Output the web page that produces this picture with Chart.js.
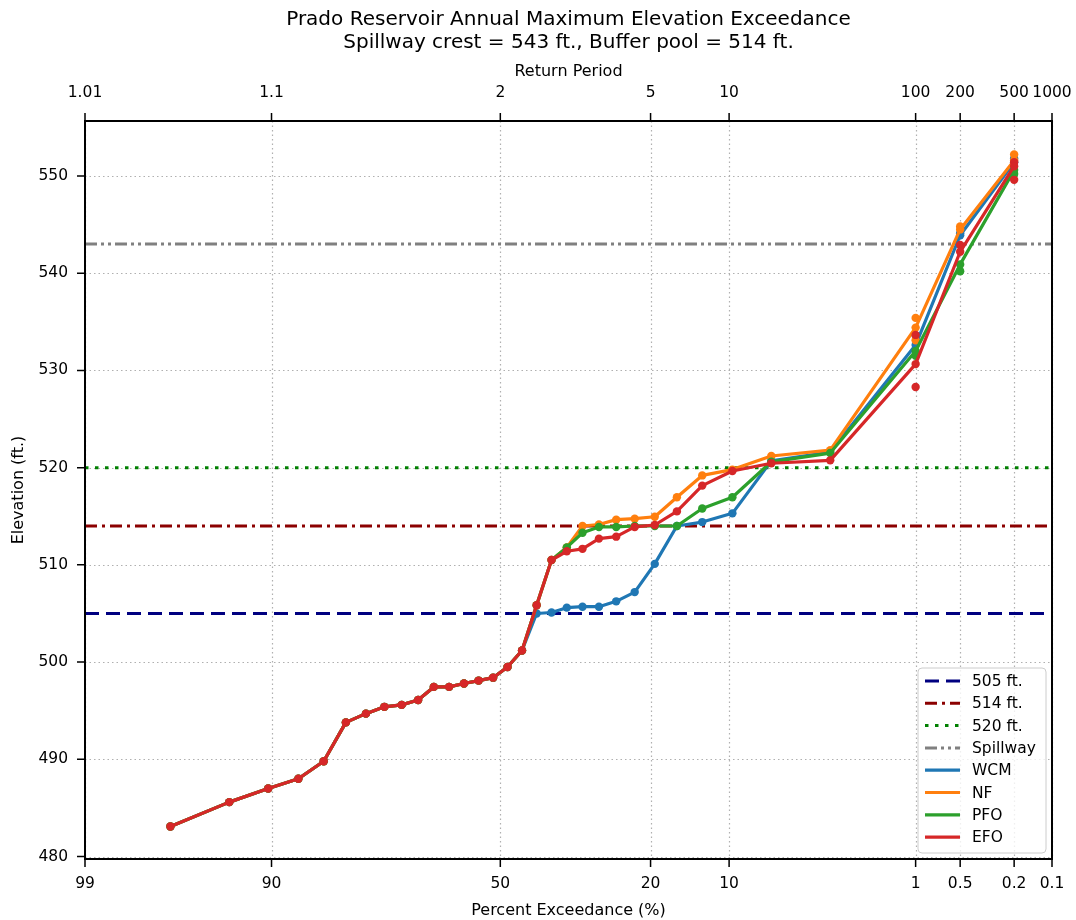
<!DOCTYPE html>
<html>
<head>
<meta charset="utf-8">
<title>Prado Reservoir Annual Maximum Elevation Exceedance</title>
<script src="https://cdn.jsdelivr.net/npm/chart.js@4.4.1/dist/chart.umd.min.js"></script>
<style>
  html, body { margin: 0; padding: 0; background: #fff; }
  #chart { display: block; }
</style>
</head>
<body>
<canvas id="chart" width="1076" height="920"></canvas>
<script>
// ============================================================================
// Data
// ============================================================================

// Ranked record (Weibull positions, % exceedance) followed by the 100/200/500-yr events
const exceedancePct = [96.77, 93.55, 90.32, 87.10, 83.87, 80.65, 77.42, 74.19, 70.97, 67.74,
  64.52, 61.29, 58.06, 54.84, 51.61, 48.39, 45.16, 41.94, 38.71, 35.48,
  32.26, 29.03, 25.81, 22.58, 19.35, 16.13, 12.90, 9.68, 6.45, 3.23,
  1, 0.5, 0.2];

const wcmElev = [483.1, 485.6, 487.0, 488.0, 489.8, 493.8, 494.7, 495.4, 495.6, 496.1,
  497.45, 497.45, 497.8, 498.1, 498.4, 499.5, 501.2, 505.0, 505.1, 505.6,
  505.7, 505.7, 506.25, 507.2, 510.1, 514.0, 514.4, 515.3, 520.7, 521.6,
  532.6, 543.9, 551.4];
const nfElev = [483.1, 485.6, 487.0, 488.0, 489.8, 493.8, 494.7, 495.4, 495.6, 496.1,
  497.45, 497.45, 497.8, 498.1, 498.4, 499.5, 501.2, 505.85, 510.5, 511.8,
  514.0, 514.15, 514.65, 514.75, 514.95, 516.95, 519.2, 519.8, 521.2, 521.8,
  534.4, 544.5, 551.6];
const pfoElev = [483.1, 485.6, 487.0, 488.0, 489.8, 493.8, 494.7, 495.4, 495.6, 496.1,
  497.45, 497.45, 497.8, 498.1, 498.4, 499.5, 501.2, 505.85, 510.5, 511.8,
  513.3, 513.9, 513.9, 514.0, 514.0, 514.0, 515.8, 516.95, 520.6, 521.5,
  532.0, 540.9, 550.6];
const efoElev = [483.1, 485.6, 487.0, 488.0, 489.8, 493.8, 494.7, 495.4, 495.6, 496.1,
  497.45, 497.45, 497.8, 498.1, 498.4, 499.5, 501.2, 505.85, 510.5, 511.4,
  511.65, 512.7, 512.9, 513.9, 514.1, 515.5, 518.15, 519.65, 520.45, 520.75,
  530.65, 542.2, 551.0];

// Other frequency estimates shown as loose dots
const wcmExtraPct = [1, 0.5, 0.2];
const wcmExtraElev = [533.6, 544.1, 551.8];
const nfExtraPct = [1, 1, 0.5, 0.2];
const nfExtraElev = [535.4, 533.1, 544.8, 552.2];
const pfoExtraPct = [1, 0.5, 0.2];
const pfoExtraElev = [531.5, 540.2, 550.2];
const efoExtraPct = [1, 1, 0.5, 0.2, 0.2];
const efoExtraElev = [533.65, 528.3, 542.9, 551.4, 549.6];

// Reference pools
const refLabels = ['505 ft.', '514 ft.', '520 ft.', 'Spillway'];
const refLevels = [505, 514, 520, 543];

// Axes
const pctTicks = [99, 90, 50, 20, 10, 1, 0.5, 0.2, 0.1];
const pctTickLabels = ['99', '90', '50', '20', '10', '1', '0.5', '0.2', '0.1'];
const returnPeriodLabels = ['1.01', '1.1', '2', '5', '10', '100', '200', '500', '1000'];
const yTicks = [480, 490, 500, 510, 520, 530, 540, 550];

// ============================================================================
// Normal probability scale
// ============================================================================

function normInv(p) {
  const a = [-3.969683028665376e+01, 2.209460984245205e+02, -2.759285104469687e+02,
    1.383577518672690e+02, -3.066479806614716e+01, 2.506628277459239e+00];
  const b = [-5.447609879822406e+01, 1.615858368580409e+02, -1.556989798598866e+02,
    6.680131188771972e+01, -1.328068155288572e+01];
  const c = [-7.784894002430293e-03, -3.223964580411365e-01, -2.400758277161838e+00,
    -2.549732539343734e+00, 4.374664141464968e+00, 2.938163982698783e+00];
  const d = [7.784695709041462e-03, 3.224671290700398e-01, 2.445134137142996e+00,
    3.754408661907416e+00];
  const lo = 0.02425;
  if (p < lo) {
    const q = Math.sqrt(-2 * Math.log(p));
    return (((((c[0] * q + c[1]) * q + c[2]) * q + c[3]) * q + c[4]) * q + c[5]) /
      ((((d[0] * q + d[1]) * q + d[2]) * q + d[3]) * q + 1);
  }
  if (p <= 1 - lo) {
    const q = p - 0.5, r = q * q;
    return (((((a[0] * r + a[1]) * r + a[2]) * r + a[3]) * r + a[4]) * r + a[5]) * q /
      (((((b[0] * r + b[1]) * r + b[2]) * r + b[3]) * r + b[4]) * r + 1);
  }
  const q = Math.sqrt(-2 * Math.log(1 - p));
  return -(((((c[0] * q + c[1]) * q + c[2]) * q + c[3]) * q + c[4]) * q + c[5]) /
    ((((d[0] * q + d[1]) * q + d[2]) * q + d[3]) * q + 1);
}

// percent exceedance -> standard normal variate
function toZ(pct) {
  return normInv(1 - pct / 100);
}

class ExceedanceScale extends Chart.Scale {
  determineDataLimits() {
    this.min = 0.1;
    this.max = 99;
  }
  buildTicks() {
    return pctTicks.map(v => ({ value: v }));
  }
  getLabelForValue(value) {
    return String(value);
  }
  getPixelForValue(value) {
    const zLeft = toZ(this.max);
    const zRight = toZ(this.min);
    return this.getPixelForDecimal((toZ(value) - zLeft) / (zRight - zLeft));
  }
  getValueForPixel(pixel) {
    // bisection, only used for interaction
    let lo = this.min, hi = this.max;
    for (let i = 0; i < 60; i++) {
      const mid = (lo + hi) / 2;
      if (this.getPixelForValue(mid) > pixel) lo = mid; else hi = mid;
    }
    return (lo + hi) / 2;
  }
}
ExceedanceScale.id = 'exceedance';
ExceedanceScale.defaults = {};
Chart.register(ExceedanceScale);

// ============================================================================
// Datasets
// ============================================================================

function toPoints(xs, ys) {
  return xs.map((x, i) => ({ x: x, y: ys[i] }));
}

const refColors = ['#000080', '#8b0000', '#008000', '#808080'];
const refDashes = [[14, 7], [12, 5, 3, 5], [3.5, 6.5], [12, 4, 3, 4, 3, 4]];

const refDatasets = refLevels.map((level, i) => ({
  label: refLabels[i],
  data: toPoints([99, 0.1], [level, level]),
  borderColor: refColors[i],
  borderWidth: 3,
  borderDash: refDashes[i],
  pointRadius: 0,
  order: 9
}));

function seriesDataset(label, color, ys, order) {
  return {
    label: label,
    data: toPoints(exceedancePct, ys),
    borderColor: color,
    backgroundColor: color,
    borderWidth: 3.2,
    borderJoinStyle: 'round',
    pointRadius: 4.2,
    pointBorderWidth: 0,
    pointBackgroundColor: color,
    order: order
  };
}

function extraDataset(label, color, xs, ys, order) {
  return {
    label: label,
    extra: true,
    data: toPoints(xs, ys),
    showLine: false,
    borderColor: color,
    pointRadius: 4.2,
    pointBorderWidth: 0,
    pointBackgroundColor: color,
    order: order
  };
}

const datasets = [
  ...refDatasets,
  seriesDataset('WCM', '#1f77b4', wcmElev, 8),
  seriesDataset('NF', '#ff7f0e', nfElev, 7),
  seriesDataset('PFO', '#2ca02c', pfoElev, 6),
  seriesDataset('EFO', '#d62728', efoElev, 5),
  extraDataset('WCM extra', '#1f77b4', wcmExtraPct, wcmExtraElev, 8),
  extraDataset('NF extra', '#ff7f0e', nfExtraPct, nfExtraElev, 7),
  extraDataset('PFO extra', '#2ca02c', pfoExtraPct, pfoExtraElev, 6),
  extraDataset('EFO extra', '#d62728', efoExtraPct, efoExtraElev, 5)
];

// ============================================================================
// Plugins
// ============================================================================

const FONT = "'DejaVu Sans', sans-serif";
const TICK_LEN = 8;

const gridAndFrame = {
  id: 'gridAndFrame',
  beforeDatasetsDraw(chart) {
    const { ctx, chartArea: a, scales } = chart;
    ctx.save();
    ctx.strokeStyle = '#b0b0b0';
    ctx.lineWidth = 1.2;
    ctx.setLineDash([1.5, 3]);
    pctTicks.forEach(v => {
      const px = Math.round(scales.x.getPixelForValue(v)) + 0.5;
      ctx.beginPath(); ctx.moveTo(px, a.top); ctx.lineTo(px, a.bottom); ctx.stroke();
    });
    yTicks.forEach(v => {
      const py = Math.round(scales.y.getPixelForValue(v)) + 0.5;
      ctx.beginPath(); ctx.moveTo(a.left, py); ctx.lineTo(a.right, py); ctx.stroke();
    });
    ctx.restore();
  },
  afterDatasetsDraw(chart) {
    const { ctx, chartArea: a, scales } = chart;
    ctx.save();
    ctx.strokeStyle = '#000';
    // tick marks
    ctx.lineWidth = 1.5;
    ctx.beginPath();
    pctTicks.forEach(v => {
      const px = scales.x.getPixelForValue(v);
      ctx.moveTo(px, a.bottom); ctx.lineTo(px, a.bottom + TICK_LEN);
      const pt = scales.x2.getPixelForValue(v);
      ctx.moveTo(pt, a.top); ctx.lineTo(pt, a.top - TICK_LEN);
    });
    yTicks.forEach(v => {
      const py = scales.y.getPixelForValue(v);
      ctx.moveTo(a.left - TICK_LEN, py); ctx.lineTo(a.left, py);
    });
    ctx.stroke();
    // spines
    ctx.lineWidth = 2;
    ctx.strokeRect(a.left, a.top, a.right - a.left, a.bottom - a.top);
    ctx.restore();
  }
};

const titleAndLegend = {
  id: 'titleAndLegend',
  afterDraw(chart) {
    const { ctx, chartArea: a } = chart;
    ctx.save();

    // title
    ctx.fillStyle = '#000';
    ctx.font = '20px ' + FONT;
    ctx.textAlign = 'center';
    ctx.textBaseline = 'middle';
    const cx = (a.left + a.right) / 2;
    ctx.fillText('Prado Reservoir Annual Maximum Elevation Exceedance', cx, 20);
    ctx.fillText('Spillway crest = 543 ft., Buffer pool = 514 ft.', cx, 43);

    // legend in lower right corner of the axes
    const items = chart.data.datasets.filter(d => !d.extra);
    const w = 128, h = 185, rowH = 22.3;
    const x0 = a.right - 6 - w, y0 = a.bottom - 6 - h;
    ctx.beginPath();
    ctx.roundRect(x0, y0, w, h, 4);
    ctx.fillStyle = 'rgba(255,255,255,0.8)';
    ctx.fill();
    ctx.strokeStyle = '#cccccc';
    ctx.lineWidth = 1;
    ctx.stroke();

    ctx.textAlign = 'left';
    ctx.font = '15.5px ' + FONT;
    items.forEach((d, i) => {
      const cy = y0 + 13 + i * rowH;
      ctx.strokeStyle = d.borderColor;
      ctx.lineWidth = d.borderWidth;
      ctx.setLineDash(d.borderDash || []);
      ctx.beginPath(); ctx.moveTo(x0 + 7, cy); ctx.lineTo(x0 + 42, cy); ctx.stroke();
      ctx.setLineDash([]);
      ctx.fillStyle = '#000';
      ctx.fillText(d.label, x0 + 54, cy + 1);
    });
    ctx.restore();
  }
};

// ============================================================================
// Chart
// ============================================================================

Chart.defaults.font.family = FONT;
Chart.defaults.color = '#000';

function fixHorizontal(height) {
  return s => {
    s.height = height;
    s.paddingLeft = 0;
    s.paddingRight = 0;
  };
}

new Chart(document.getElementById('chart').getContext('2d'), {
  type: 'line',
  data: { datasets: datasets },
  options: {
    responsive: false,
    animation: false,
    events: [],
    layout: { padding: { top: 50, right: 24, bottom: 0, left: 0 } },
    plugins: {
      legend: { display: false },
      tooltip: { enabled: false },
      title: { display: false }
    },
    scales: {
      x: {
        type: 'exceedance',
        position: 'bottom',
        afterFit: fixHorizontal(61),
        ticks: {
          autoSkip: false, maxRotation: 0, minRotation: 0, padding: 16,
          font: { size: 15.5 }, color: '#000',
          callback: (v, i) => pctTickLabels[i]
        },
        grid: { display: false, drawTicks: false },
        border: { display: false },
        title: {
          display: true, text: 'Percent Exceedance (%)',
          font: { size: 16 }, color: '#000', padding: { top: 0, bottom: 0 }
        }
      },
      x2: {
        type: 'exceedance',
        position: 'top',
        afterFit: fixHorizontal(71),
        ticks: {
          autoSkip: false, maxRotation: 0, minRotation: 0, padding: 19,
          font: { size: 15.5 }, color: '#000',
          callback: (v, i) => returnPeriodLabels[i]
        },
        grid: { display: false, drawTicks: false },
        border: { display: false },
        title: {
          display: true, text: 'Return Period',
          font: { size: 16 }, color: '#000', padding: { top: 12, bottom: 0 }
        }
      },
      y: {
        type: 'linear',
        position: 'left',
        min: 479.75,
        max: 555.65,
        afterBuildTicks: s => { s.ticks = yTicks.map(v => ({ value: v })); },
        afterFit: s => { s.width = 85; },
        ticks: { padding: 17, font: { size: 15.5 }, color: '#000', callback: v => String(v) },
        grid: { display: false, drawTicks: false },
        border: { display: false },
        title: {
          display: true, text: 'Elevation (ft.)',
          font: { size: 16 }, color: '#000', padding: { top: 9, bottom: 0 }
        }
      }
    }
  },
  plugins: [gridAndFrame, titleAndLegend]
});
</script>
</body>
</html>
